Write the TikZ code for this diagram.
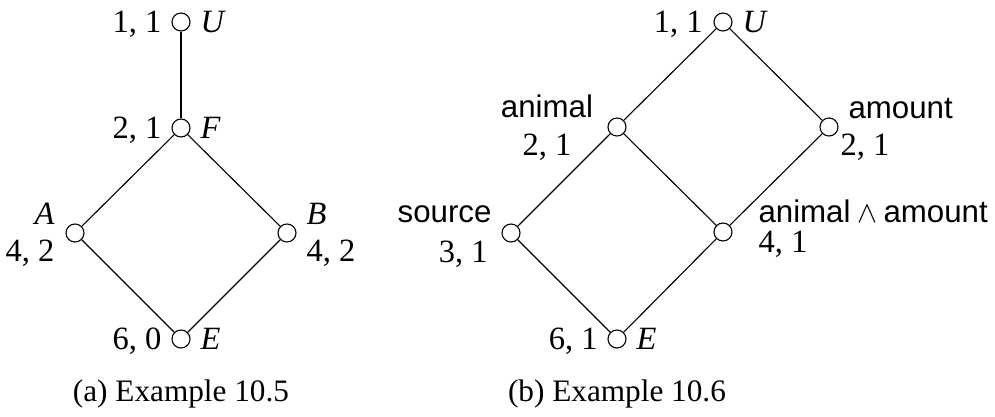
\documentclass[tikz,border=0pt]{standalone}
\usepackage{fontspec}
\setmainfont{Liberation Serif}
\setsansfont{Liberation Sans}
\begin{document}
\begin{tikzpicture}[x=0.4pt,y=-0.4pt,
  vert/.style={circle,draw,line width=0.45pt,inner sep=0pt,minimum size=7.2pt},
  lbl/.style={inner sep=0pt,font=\fontsize{13}{15}\selectfont},
  caplbl/.style={inner sep=0pt,font=\fontsize{12.5}{15}\selectfont},
  slbl/.style={inner sep=0pt,font=\fontsize{12.5}{14}\selectfont\sffamily},
  edge/.style={line width=0.45pt},
  thickedge/.style={line width=0.85pt}]
\useasboundingbox (0,0) rectangle (995,416);
% ---------- (a) ----------
\node[vert] (aU) at (181,22) {};
\node[vert] (aF) at (181,128) {};
\node[vert] (aA) at (75,233) {};
\node[vert] (aB) at (287,233) {};
\node[vert] (aE) at (181,339) {};
\draw[thickedge] (aU) -- (aF);
\draw[edge] (aF) -- (aA);
\draw[edge] (aF) -- (aB);
\draw[edge] (aA) -- (aE);
\draw[edge] (aB) -- (aE);
\node[lbl,anchor=base east] (aUn) at (162,32) {1, 1};
\node[lbl,anchor=base west] (aUl) at (200,32) {\itshape U};
\node[lbl,anchor=base east] (aFn) at (162,138) {2, 1};
\node[lbl,anchor=base west] (aFl) at (200,138) {\itshape F};
\node[lbl,anchor=base east] (aAl) at (55,224) {\itshape A};
\node[lbl,anchor=base east] (aAn) at (55,261) {4, 2};
\node[lbl,anchor=base west] (aBl) at (306,224) {\itshape B};
\node[lbl,anchor=base west] (aBn) at (306,261) {4, 2};
\node[lbl,anchor=base east] (aEn) at (162,349) {6, 0};
\node[lbl,anchor=base west] (aEl) at (200,349) {\itshape E};
\node[caplbl,anchor=base] (capa) at (181,401) {(a) Example 10.5};
% ---------- (b) ----------
\node[vert] (bU) at (723,22) {};
\node[vert] (bAn) at (617,127) {};
\node[vert] (bAm) at (829,127) {};
\node[vert] (bS) at (511,233) {};
\node[vert] (bAA) at (723,232) {};
\node[vert] (bE) at (617,339) {};
\draw[edge] (bU) -- (bAn);
\draw[edge] (bU) -- (bAm);
\draw[edge] (bAn) -- (bS);
\draw[edge] (bAn) -- (bAA);
\draw[edge] (bAm) -- (bAA);
\draw[edge] (bS) -- (bE);
\draw[edge] (bAA) -- (bE);
\node[lbl,anchor=base east] (bUn) at (703,32) {1, 1};
\node[lbl,anchor=base west] (bUl) at (742,32) {\itshape U};
\node[slbl,anchor=base] (bAnl) at (547,117) {animal};
\node[lbl,anchor=base] (bAnn) at (547,155) {2, 1};
\node[slbl,anchor=base west] (bAml) at (848,118) {amount};
\node[lbl,anchor=base west] (bAmn) at (840,155) {2, 1};
\node[slbl,anchor=base east] (bSl) at (492,222) {source};
\node[lbl,anchor=base east] (bSn) at (488,262) {3, 1};
\node[slbl,anchor=base west] (bAAl) at (758,222) {animal\hspace{2.6pt}{\normalfont\fontsize{11.5}{12}\selectfont$\wedge$}\hspace{2.6pt}amount};
\node[lbl,anchor=base west] (bAAn) at (758,252) {4, 1};
\node[lbl,anchor=base east] (bEn) at (598,349) {6, 1};
\node[lbl,anchor=base west] (bEl) at (636,349) {\itshape E};
\node[caplbl,anchor=base] (capb) at (617,401) {(b) Example 10.6};
\end{tikzpicture}
\end{document}
